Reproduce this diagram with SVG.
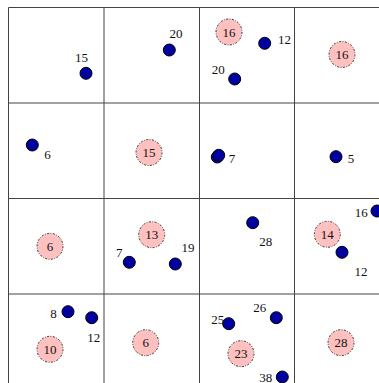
<svg xmlns="http://www.w3.org/2000/svg" width="379" height="383" viewBox="0 0 379 383">
<style>
.grid{stroke:#444;stroke-width:1;fill:none}
.pt{fill:#0000a0;stroke:#000;stroke-width:1}
.ctr{fill:#ffc0c0;stroke:#333;stroke-width:1;stroke-dasharray:2,1.5,0.8,1.5}
text{font-family:"Liberation Serif","Times New Roman",serif;font-size:13px;fill:#111}
.c{text-anchor:middle}
</style>
<rect width="379" height="383" fill="#fff"/>
<g id="grid" class="grid">
<path d="M8.5 7.5H389M8.5 103H389M8.5 198.5H389M8.5 294H389M8.5 7.5V389M104 7.5V389M199.5 7.5V389M294.5 7.5V389"/>
</g>
<g id="centroids">
<g id="c1"><circle class="ctr" cx="149" cy="152.5" r="13"/><text class="c" x="149" y="157">15</text></g>
<g id="c2"><circle class="ctr" cx="229" cy="32" r="13"/><text class="c" x="229" y="36.5">16</text></g>
<g id="c3"><circle class="ctr" cx="342" cy="54.5" r="13"/><text class="c" x="342" y="59">16</text></g>
<g id="c4"><circle class="ctr" cx="50" cy="246.3" r="13"/><text class="c" x="50" y="250.8">6</text></g>
<g id="c5"><circle class="ctr" cx="151.7" cy="234.7" r="13"/><text class="c" x="151.7" y="239.2">13</text></g>
<g id="c6"><circle class="ctr" cx="327.3" cy="234.3" r="13"/><text class="c" x="327.3" y="238.8">14</text></g>
<g id="c7"><circle class="ctr" cx="50" cy="349.3" r="13"/><text class="c" x="50" y="353.8">10</text></g>
<g id="c8"><circle class="ctr" cx="145.7" cy="342.7" r="13"/><text class="c" x="145.7" y="347.2">6</text></g>
<g id="c9"><circle class="ctr" cx="241" cy="353.7" r="13"/><text class="c" x="241" y="358.2">23</text></g>
<g id="c10"><circle class="ctr" cx="341" cy="342.7" r="13"/><text class="c" x="341" y="347.2">28</text></g>
</g>
<g id="points">
<g id="p1"><circle class="pt" cx="86" cy="73.3" r="6"/><text class="c" x="81.5" y="61.5">15</text></g>
<g id="p2"><circle class="pt" cx="169.3" cy="50" r="6"/><text class="c" x="176" y="38">20</text></g>
<g id="p3"><circle class="pt" cx="32.3" cy="145" r="6"/><text class="c" x="47.5" y="158.5">6</text></g>
<g id="p4"><circle class="pt" cx="264.7" cy="43.3" r="6"/><text class="c" x="284.5" y="43.5">12</text></g>
<g id="p5"><circle class="pt" cx="234.7" cy="79" r="6"/><text class="c" x="218.3" y="73.5">20</text></g>
<g id="p6"><circle class="pt" cx="217.3" cy="157" r="6"/><circle class="pt" cx="218.7" cy="155.3" r="6"/><text class="c" x="232" y="162.5">7</text></g>
<g id="p7"><circle class="pt" cx="336" cy="156.7" r="6"/><text class="c" x="351" y="162.5">5</text></g>
<g id="p8"><circle class="pt" cx="129.3" cy="262.3" r="6"/><text class="c" x="119.3" y="257">7</text></g>
<g id="p9"><circle class="pt" cx="175.3" cy="264" r="6"/><text class="c" x="188" y="251.5">19</text></g>
<g id="p10"><circle class="pt" cx="252.7" cy="222.7" r="6"/><text class="c" x="265.7" y="246">28</text></g>
<g id="p11"><circle class="pt" cx="342" cy="252.3" r="6"/><text class="c" x="361" y="275.5">12</text></g>
<g id="p12"><circle class="pt" cx="377" cy="211" r="6"/><text class="c" x="361.3" y="217">16</text></g>
<g id="p13"><circle class="pt" cx="68" cy="311.7" r="6"/><text class="c" x="53.5" y="317.5">8</text></g>
<g id="p14"><circle class="pt" cx="91.7" cy="317.7" r="6"/><text class="c" x="93.7" y="341.5">12</text></g>
<g id="p15"><circle class="pt" cx="228.7" cy="323.7" r="6"/><text class="c" x="217.7" y="323.5">25</text></g>
<g id="p16"><circle class="pt" cx="276.3" cy="317.7" r="6"/><text class="c" x="259.7" y="312">26</text></g>
<g id="p17"><circle class="pt" cx="282.3" cy="377" r="6"/><text class="c" x="265.7" y="382">38</text></g>
</g>
</svg>
